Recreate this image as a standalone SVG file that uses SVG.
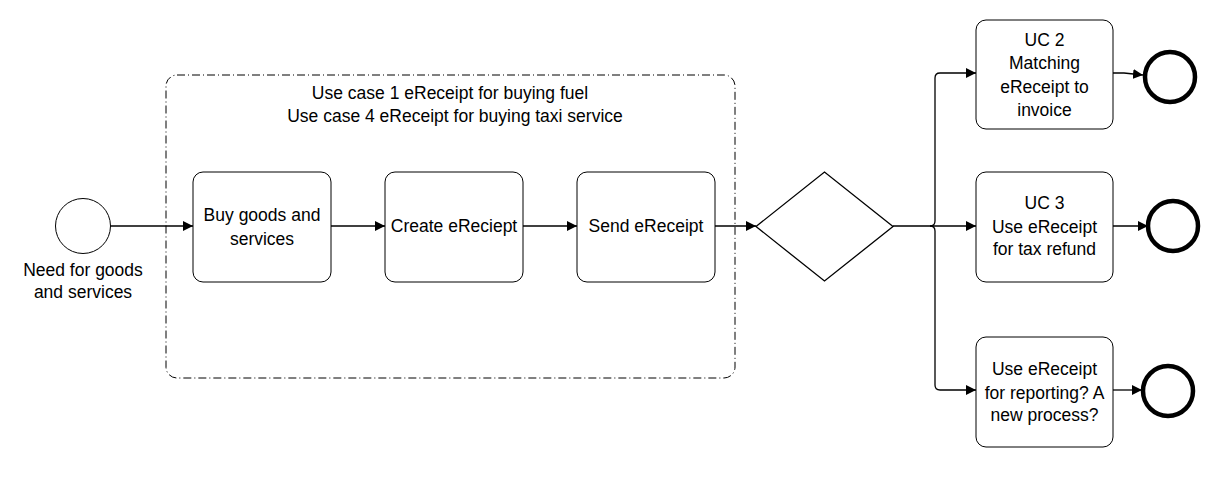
<svg xmlns="http://www.w3.org/2000/svg" width="1208" height="482" viewBox="0 0 1208 482">
<style>
text{font-family:"Liberation Sans",Arial,sans-serif;font-size:17.5px;fill:#000;text-anchor:middle}
.task{fill:#fff;stroke:#000;stroke-width:1}
.conn{fill:none;stroke:#000;stroke-width:1.3}
.end{fill:#fff;stroke:#000;stroke-width:4.5}
</style>
<defs>
<marker id="arr" viewBox="0 0 10 10" refX="10" refY="5" markerWidth="10" markerHeight="10" markerUnits="userSpaceOnUse" orient="auto">
<path d="M0,0 L10,5 L0,10 z" fill="#000"/>
</marker>
</defs>
<rect width="1208" height="482" fill="#fff"/>
<g id="group-uc1-uc4">
<rect x="166" y="75" width="569" height="303" rx="11" fill="none" stroke="#000" stroke-width="1" stroke-dasharray="8 3 1 3"/>
<text x="450" y="99">Use case 1 eReceipt for buying fuel</text>
<text x="455" y="122">Use case 4 eReceipt for buying taxi service</text>
</g>
<g id="connectors">
<path class="conn" d="M110.5,226 L193,226" marker-end="url(#arr)"/>
<path class="conn" d="M331,226 L385,226" marker-end="url(#arr)"/>
<path class="conn" d="M523,226 L577,226" marker-end="url(#arr)"/>
<path class="conn" d="M715,226 L756,226" marker-end="url(#arr)"/>
<path class="conn" d="M893,226 L930,226 Q935,226 935,221 L935,78 Q935,73 940,73 L976,73" marker-end="url(#arr)"/>
<path class="conn" d="M930,226 L976,226" marker-end="url(#arr)"/>
<path class="conn" d="M930,226 Q935,226 935,231 L935,385 Q935,390 940,390 L976,390" marker-end="url(#arr)"/>
<path class="conn" d="M1113,73 L1124,73 L1143,75" marker-end="url(#arr)"/>
<path class="conn" d="M1113,226 L1148,226" marker-end="url(#arr)"/>
<path class="conn" d="M1113,390 L1142,390" marker-end="url(#arr)"/>
</g>
<g id="start">
<circle cx="83" cy="226" r="27.5" fill="#fff" stroke="#000" stroke-width="1"/>
<text x="83" y="276">Need for goods</text>
<text x="83" y="298">and services</text>
</g>
<g id="buy">
<rect class="task" x="193" y="172" width="138" height="110" rx="10"/>
<text x="262" y="221">Buy goods and</text>
<text x="262" y="245">services</text>
</g>
<g id="create">
<rect class="task" x="385" y="172" width="138" height="110" rx="10"/>
<text x="454" y="232">Create eReciept</text>
</g>
<g id="send">
<rect class="task" x="577" y="172" width="138" height="110" rx="10"/>
<text x="646" y="232">Send eReceipt</text>
</g>
<g id="gateway">
<polygon points="756,226.5 824.5,172 893,226.5 824.5,281" fill="#fff" stroke="#000" stroke-width="1.3"/>
</g>
<g id="uc2">
<rect class="task" x="976" y="20" width="137" height="109" rx="10"/>
<text x="1044.5" y="46">UC 2</text>
<text x="1044.5" y="69">Matching</text>
<text x="1044.5" y="93">eReceipt to</text>
<text x="1044.5" y="116">invoice</text>
</g>
<g id="uc3">
<rect class="task" x="976" y="172" width="137" height="110" rx="10"/>
<text x="1044.5" y="209">UC 3</text>
<text x="1044.5" y="233">Use eReceipt</text>
<text x="1044.5" y="255">for tax refund</text>
</g>
<g id="reporting">
<rect class="task" x="976" y="337" width="137" height="110" rx="10"/>
<text x="1044.5" y="375">Use eReceipt</text>
<text x="1044.5" y="399">for reporting? A</text>
<text x="1044.5" y="421">new process?</text>
</g>
<g id="end1"><circle class="end" cx="1170" cy="77" r="25"/></g>
<g id="end2"><circle class="end" cx="1173" cy="226" r="25"/></g>
<g id="end3"><circle class="end" cx="1168" cy="391" r="25"/></g>
</svg>
